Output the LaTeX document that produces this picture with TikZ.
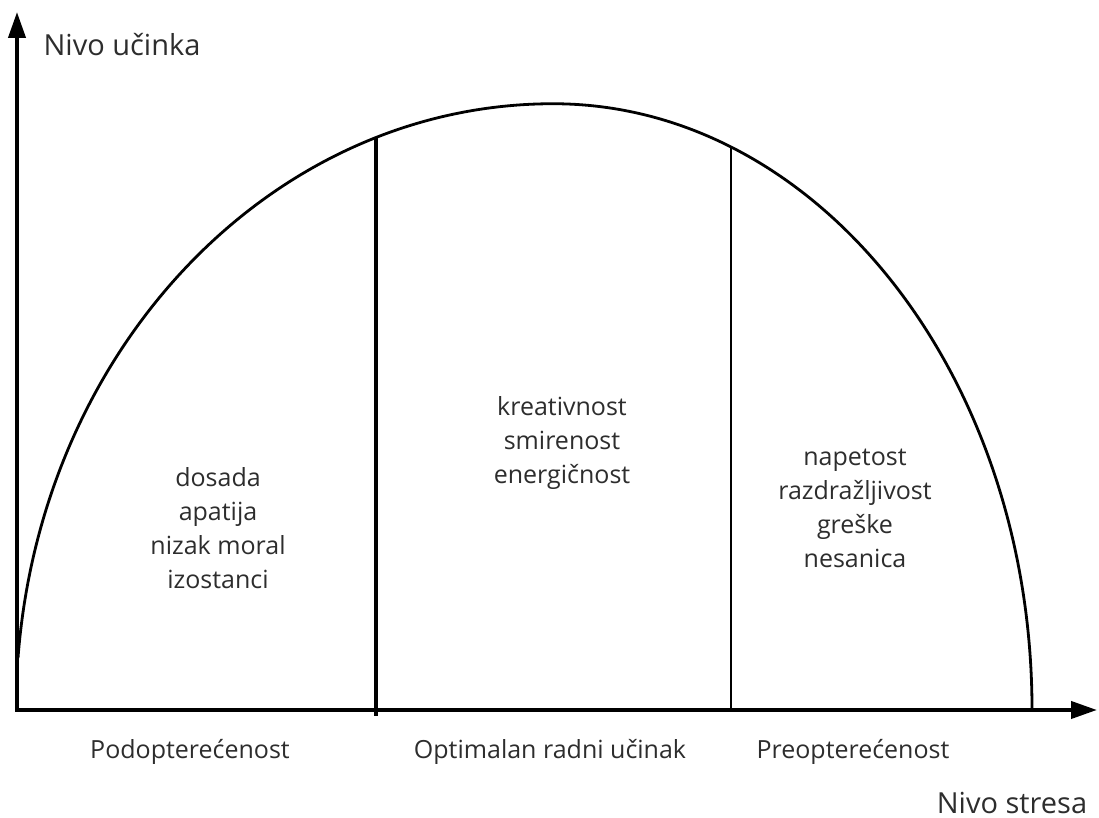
\documentclass[tikz,border=0pt]{standalone}
\usepackage{fontspec}
\setmainfont{Open Sans}
\usetikzlibrary{positioning, arrows.meta}
\definecolor{txtgray}{RGB}{45,45,45}

\begin{document}
\begin{tikzpicture}[
          x = 0.5pt, y = 0.5pt,
   axis/.style = {line width=2pt, line join=miter,
                  {Triangle[length=13pt, width=8.5pt]}-{Triangle[length=13pt, width=8.5pt]}},
  curve/.style = {line width=1.4pt},
   zone/.style = {align=center, text=txtgray, inner sep=0pt,
                  font=\fontsize{12.5}{17}\selectfont},
  title/.style = {text=txtgray, inner sep=0pt, font=\fontsize{14.5}{17}\selectfont}
                        ]
\useasboundingbox (-17,-108) rectangle (1082,710);
\coordinate (O) at (0,0);
\coordinate (ytip) at (0,698);
\coordinate (xtip) at (1080,0);
% axes
\draw[axis] (ytip) -- (O) -- (xtip);
% curve
\draw[curve] (1,52) arc[start angle=175.1, end angle=90, x radius=537, y radius=606]
                    arc[start angle=90, end angle=0, x radius=479, y radius=606];
% zone borders
\draw[line width=2pt] (359,-6) -- (359,572);
\draw[curve] (714,0) -- (714,563);
% labels
\node (ylab) [title] at (105,665) {Nivo učinka};
\node (xlab) [title] at (995,-93) {Nivo stresa};
\node (under) [zone] at (173,-42) {Podopterećenost};
\node (optimal) [zone] at (533,-42) {Optimalan radni učinak};
\node (over) [zone] at (836,-42) {Preopterećenost};
\node (bored) [zone] at (201,182) {dosada\\apatija\\nizak moral\\izostanci};
\node (creative) [zone] at (545,267) {kreativnost\\smirenost\\energičnost};
\node (tense) [zone] at (838,202) {napetost\\razdražljivost\\greške\\nesanica};
\end{tikzpicture}
\end{document}
